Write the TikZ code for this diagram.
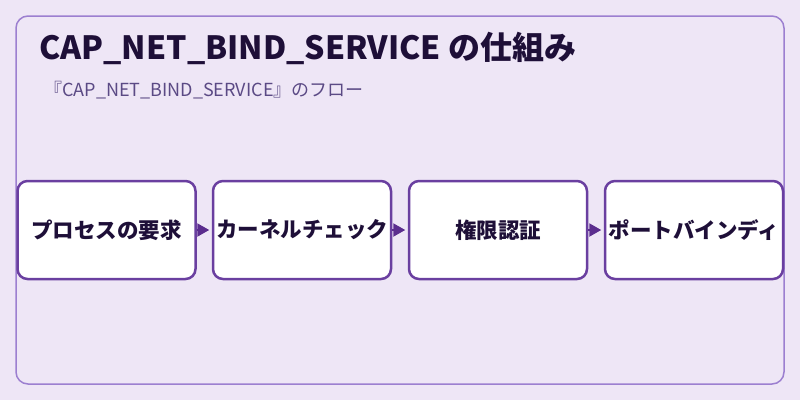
\documentclass[tikz,border=0pt]{standalone}
\usepackage{fontspec}
\setmainfont{Noto Sans CJK JP}
\usetikzlibrary{arrows.meta}
\definecolor{bg}{HTML}{EEE6F6}
\definecolor{frame}{HTML}{9C7FD0}
\definecolor{boxline}{HTML}{6A3FA0}
\definecolor{arrowc}{HTML}{5B2D8E}
\definecolor{titlec}{HTML}{1E0F38}
\definecolor{subc}{HTML}{5B4A85}
\tikzset{
  stepbox/.style={draw=boxline, line width=2.5pt, fill=white, rounded corners=10pt,
    minimum width=178pt, minimum height=98pt, inner sep=0pt,
    font=\fontsize{21.5}{24}\selectfont\bfseries, text=titlec},
  flow/.style={draw=arrowc, line width=2pt, -{Triangle[length=12pt,width=13pt]}, shorten >=2.5pt}
}
\begin{document}
\begin{tikzpicture}[x=1pt,y=-1pt]
\fill[bg] (0,0) rectangle (800,400);
\useasboundingbox (0,0) rectangle (800,400);
\draw[frame, line width=1.5pt, rounded corners=12pt] (16,16) rectangle (784,384);
\node[anchor=base west, inner sep=0pt, text=titlec, font=\fontsize{32}{36}\selectfont\bfseries] (title) at (39,59) {CAP\_NET\_BIND\_SERVICE の仕組み};
\node[anchor=base west, inner sep=0pt, text=subc, font=\fontsize{18}{22}\selectfont] (sub) at (44,96) {『CAP\_NET\_BIND\_SERVICE』のフロー};
\node[stepbox] (b1) at (106.5,230) {プロセスの要求};
\node[stepbox] (b2) at (302,230) {カーネルチェック};
\node[stepbox] (b3) at (498,230) {権限認証};
\node[stepbox] (b4) at (694,230) {ポートバインディ};
\draw[flow] (b1.east) -- (b2.west);
\draw[flow] (b2.east) -- (b3.west);
\draw[flow] (b3.east) -- (b4.west);
\end{tikzpicture}
\end{document}
